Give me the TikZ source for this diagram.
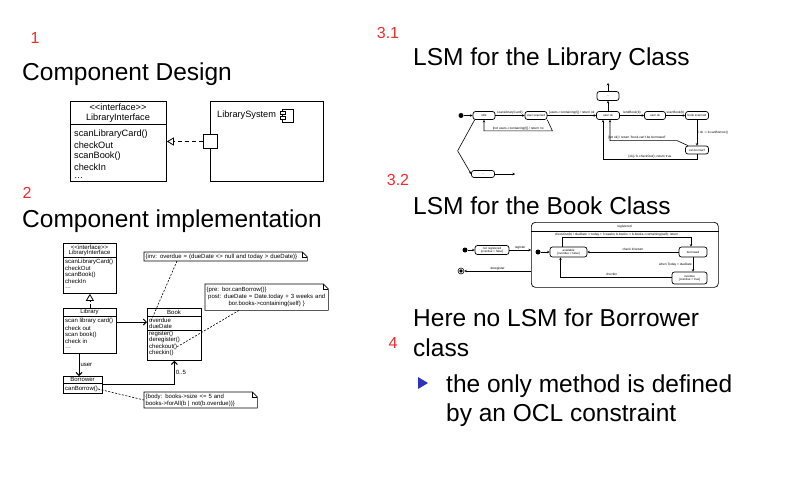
\documentclass[tikz,border=0pt]{standalone}
\usepackage{fontspec}
\setmainfont{Liberation Sans}
\usetikzlibrary{arrows.meta, positioning, calc}
\definecolor{cNum}{RGB}{238,44,44}
\definecolor{cBullet}{RGB}{44,52,186}
\tikzset{
	title/.style   ={anchor=base west, inner sep=0pt, font=\fontsize{24.5}{29}\selectfont},
	num/.style     ={inner sep=0pt, text=cNum, font=\fontsize{16}{18}\selectfont},
	% UML class diagram styles
	umlbox/.style  ={rectangle, draw=black, line width=0.8pt, anchor=north west, inner sep=0pt},
	mem/.style     ={anchor=west, inner sep=0pt},
	hdr/.style     ={inner sep=0pt},
	note/.style    ={anchor=north west, inner sep=1.5pt, align=left},
	realize/.style ={-{Triangle[open, length=7pt, width=8pt]}, dash pattern=on 4pt off 3pt, line width=0.8pt},
	nav/.style     ={-{Straight Barb[length=3pt, width=6pt]}, line width=1pt},
	noteline/.style={dash pattern=on 2pt off 1.5pt, line width=0.6pt},
	% state machine styles
	state/.style   ={rectangle, rounded corners=2.5pt, draw=black, line width=0.7pt, align=center, inner sep=0pt, minimum width=22pt, minimum height=8pt, font=\fontsize{3}{3.4}\selectfont},
	initial/.style ={circle, fill=black, inner sep=0pt, minimum size=5pt},
	tr/.style      ={-{Stealth[length=2.5pt, width=2.5pt]}, line width=0.6pt},
	trl/.style     ={font=\fontsize{3.2}{3.6}\selectfont, inner sep=0.8pt},
}
% outline of a UML note with folded corner
\newcommand\dogear[1]{%
	\draw[line width=0.6pt] (#1.north west) -- ([xshift=-5pt]#1.north east) -- ([yshift=-5pt]#1.north east) -- (#1.south east) -- (#1.south west) -- cycle;
	\draw[line width=0.6pt] ([xshift=-5pt]#1.north east) |- ([yshift=-5pt]#1.north east);}

\begin{document}
\begin{tikzpicture}[x=1pt, y=-1pt]
	\useasboundingbox (0,0) rectangle (788,496);
	% numbers and headings
	\node[num] (n1) at (35,38) {1};
	\node[num] (n2) at (27,193) {2};
	\node[num] (n31) at (388,33) {3.1};
	\node[num] (n32) at (398,180) {3.2};
	\node[num] (n4) at (393,343) {4};
	\node[title] (t1) at (22,80) {Component Design};
	\node[title] (t2) at (22,227) {Component implementation};
	\node[title] (t31) at (413,65) {LSM for the Library Class};
	\node[title] (t32) at (413,214) {LSM for the Book Class};
	\node[title] (t4a) at (413,326) {Here no LSM for Borrower};
	\node[title] (t4b) at (413,356) {class};
	\fill[cBullet] (418,377) -- (428,383) -- (418,389) -- cycle;
	\node[title] (b1) at (446,392) {the only method is defined};
	\node[title] (b2) at (446,421) {by an OCL constraint};

	% 1: component design
	\begin{scope}[font=\fontsize{9.2}{11}\selectfont]
		\node[umlbox, minimum width=96pt, minimum height=80pt] (iface) at (70,101) {};
		\draw[line width=0.8pt] (iface.west |- 0,124) -- (iface.east |- 0,124);
		\node[hdr] (ifst) at (118,107) {<\kern0pt<interface>\kern0pt>};
		\node[hdr] (ifname) at (118,118.5) {LibraryInterface};
		\foreach \op [count=\i] in {scanLibraryCard(), checkOut, scanBook(), checkIn, \ldots}
			\node[mem] (ifop\i) at (74,{123+11*\i}) {\op};
		\node[umlbox, minimum width=113pt, minimum height=80pt] (sys) at (210,101) {};
		\node[mem] (sysname) at (217,115) {LibrarySystem};
		\draw[line width=0.7pt] (282,109) rectangle (293,122);
		\draw[line width=0.7pt, fill=white] (280,111.5) rectangle (285,114.5);
		\draw[line width=0.7pt, fill=white] (280,116.5) rectangle (285,119.5);
		\node[rectangle, draw, line width=0.8pt, fill=white, minimum size=14pt, inner sep=0pt] (port) at (210,141.5) {};
		\draw[realize] (port) -- (iface.east |- port);
	\end{scope}

	% 2: component implementation
	\begin{scope}[font=\fontsize{6}{7}\selectfont]
		\node[umlbox, minimum width=53pt, minimum height=50pt] (li2) at (63,243) {};
		\draw[line width=0.8pt] (li2.west |- 0,257) -- (li2.east |- 0,257);
		\node[hdr] (li2st) at (89.5,247) {<\kern0pt<interface>\kern0pt>};
		\node[hdr] (li2name) at (89.5,253) {LibraryInterface};
		\foreach \op [count=\i] in {scanLibraryCard(), checkOut, scanBook(), checkIn, \ldots}
			\node[mem] (li2op\i) at (65,{255.5+6.5*\i}) {\op};

		\node[umlbox, minimum width=53pt, minimum height=45pt] (lib) at (63,308) {};
		\draw[line width=0.8pt] (lib.west |- 0,316) -- (lib.east |- 0,316);
		\node[hdr] (libname) at (89.5,312) {Library};
		\foreach \op [count=\i] in {scan library card(), check out, scan book(), check in, \ldots}
			\node[mem] (libop\i) at (65,{314.5+6.7*\i}) {\op};

		\node[umlbox, minimum width=54pt, minimum height=52pt] (book) at (147,308) {};
		\draw[line width=0.8pt] (book.west |- 0,316) -- (book.east |- 0,316);
		\draw[line width=0.8pt] (book.west |- 0,330) -- (book.east |- 0,330);
		\node[hdr] (bookname) at (174,312) {Book};
		\node[mem] (bkatt1) at (149,320.5) {overdue};
		\node[mem] (bkatt2) at (149,326.5) {dueDate};
		\foreach \op [count=\i] in {register(), deregister(), checkout(), checkin()}
			\node[mem] (bkop\i) at (149,{328+6.2*\i}) {\op};

		\node[umlbox, minimum width=39pt, minimum height=17pt] (bor) at (63,376) {};
		\draw[line width=0.8pt] (bor.west |- 0,383.5) -- (bor.east |- 0,383.5);
		\node[hdr] (borname) at (82.5,379.5) {Borrower};
		\node[mem] (canb) at (65,389) {canBorrow()};

		\draw[realize] (lib.north) -- (li2.south);
		\draw[nav] ([yshift=-14pt]lib.north east) -- ([yshift=-14pt]book.north west);
		\draw[nav] ([xshift=16pt]lib.south west) -- node[right, inner sep=1pt] (lbUser) {user} ([xshift=16pt]bor.north west);
		\draw[nav] (bor.east) -| node[pos=0.75, right, inner sep=1pt] (lbMult) {0..5} (book.south);

		% OCL notes
		\node[note, text width=160pt] (inv) at (144,252) {\{inv: overdue = (dueDate <> null and today > dueDate)\}};
		\node[note, text width=120pt, minimum height=26pt, align=center] (pre) at (205,284)
			{\makebox[120pt][l]{\{pre: bor.canBorrow()\}}\\ post: dueDate = Date.today + 3 weeks and\\ bor.books->containing(self) \}};
		\node[note, text width=110pt] (body) at (144,392) {\{body: books->size <= 5 and\\ books->forAll(b | not(b.overdue))\}};
		\dogear{inv}
		\dogear{pre}
		\dogear{body}
		\draw[noteline] ([xshift=33pt]inv.south west) -- ([xshift=4pt, yshift=-13pt]book.north west);
		\draw[noteline] ([xshift=34pt]pre.south west) -- (bkop3.east);
		\draw[noteline] (canb.east) -- (body.west);
	\end{scope}

	% 3.1: state machine of Library
	\node[initial] (li0) at (461,115.5) {};
	\node[state] (idle) at (484,115.5) {Idle};
	\node[state] (usc) at (536,115.5) {user scanned};
	\node[state, minimum width=23pt] (uok) at (608,115.5) {user ok};
	\node[state, minimum height=9pt] (more1) at (608,96) {...};
	\node[state, minimum width=23pt, minimum height=7pt] (more2) at (483,174) {...};
	\node[state, minimum width=21pt] (uok2) at (655,115.5) {user ok};
	\node[state, minimum width=23pt] (bsc) at (697,115.5) {book scanned};
	\node[state, minimum width=23pt] (cborrow) at (697,150) {can borrow?};
	\coordinate (up1) at (608,83);
	\coordinate (out2) at (515,174);
	\draw[tr] (li0) -- (idle);
	\draw[tr] (idle) -- node[trl, above] (lbScan) {scanLibraryCard()} (usc);
	\draw[tr] (usc.south east) -- ++(5,11) -| node[trl, pos=0.25, above] (lbNo) {[not users->containing(l)] / return no} (idle.south);
	\draw[tr] (usc) -- node[trl, above] (lbOk) {[users->containing(l)] / return ok} (uok);
	\draw[tr] (uok) -- (more1);
	\draw[tr] (more1) -- (up1);
	\draw[tr] ([xshift=2pt]idle.south west) -- ++(-17,31) -- (more2.west);
	\draw[tr] (more2) -- (out2);
	\draw[tr] (uok) -- node[trl, above] (lbLend) {lendBook(b)} (uok2);
	\draw[tr] (uok2) -- node[trl, above] (lbBook) {scanBook(b)} (bsc);
	\draw[tr] (bsc) -- node[trl, right] (lbCan) {/ ok := b.canBorrow()} (cborrow);
	\draw[tr] ([xshift=3pt]cborrow.north west) -- ++(-11,-5) -| node[trl, pos=0.3, above] (lbNot) {[not ok] / return "book can't be borrowed"} ([xshift=2pt]uok.south);
	\draw[tr] (cborrow.south) -- ++(0,5) -| node[trl, pos=0.25, above] (lbYes) {[ok] / b.checkOut(); return true} ([xshift=-5pt]uok.south);

	% 3.2: state machine of Book
	\node[initial] (bi0) at (465,250) {};
	\node[state, minimum width=34pt, minimum height=9pt] (nreg) at (492,250) {not registered\\{}[overdue = false]};
	\node[draw, line width=0.7pt, rounded corners=4pt, minimum width=187pt, minimum height=65pt, anchor=north west, inner sep=0pt] (reg) at (531,222) {};
	\draw[line width=0.6pt] (reg.west |- 0,231) -- (reg.east |- 0,231);
	\node[trl] (regname) at (624.5,227) {registered};
	\node[initial] (bi1) at (538,252) {};
	\node[state, minimum width=37pt, minimum height=10pt] (avail) at (568.5,252) {available\\{}[overdue = false]};
	\node[state, minimum width=28pt, minimum height=10pt] (borrowed) at (693,252) {borrowed};
	\node[state, minimum width=35pt, minimum height=12pt] (overdue) at (689.5,278) {overdue\\{}[overdue = true]};
	\node[circle, draw, line width=0.6pt, minimum size=6pt, inner sep=0pt] (fin) at (461,271) {};
	\fill (fin.center) circle (1.8pt);
	\draw[tr] (bi0) -- (nreg);
	\draw[tr] (nreg) -- node[trl, above] (lbReg) {register} (nreg -| reg.west);
	\draw[tr] (bi1) -- (avail);
	\draw[tr] ([xshift=-6pt]avail.north) -- ++(0,-9) -| node[trl, pos=0.21, above] (lbOut) {checkOut(b) / dueDate := today + 3 weeks; b.books := b.books->containing(self); return} ([xshift=-2pt]borrowed.north);
	\draw[tr] (borrowed.west) -- node[trl, above] (lbIn) {check in/return} (avail.east);
	\draw[tr] (borrowed.south) -- node[trl, left] (lbWhen) {when Today > dueDate} (borrowed.south |- overdue.north);
	\draw[tr] ([yshift=1pt]overdue.west) -| node[trl, pos=0.27, above] (lbChk) {checkIn} ([xshift=-8pt]avail.south);
	\draw[tr] (reg.west |- fin) -- node[trl, above] (lbDereg) {deregister} (fin);
\end{tikzpicture}
\end{document}
